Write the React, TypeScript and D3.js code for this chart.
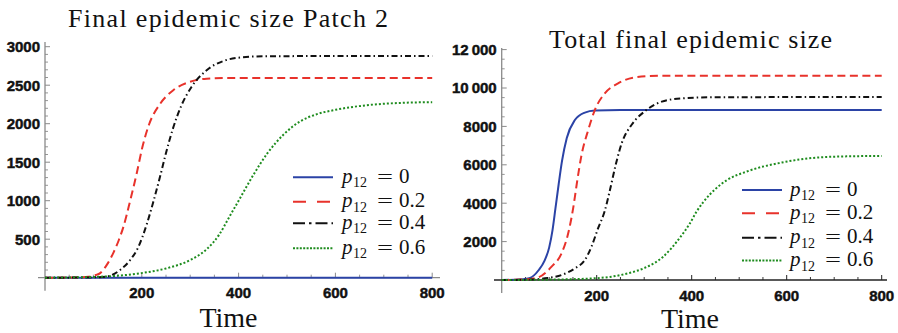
import React from "react";
import * as d3 from "d3";

// ---------- data (time, value) ----------
const patch2P0: [number, number][] = [[0, 0], [400, 0], [800, 0]];
const patch2P02: [number, number][] = [
  [0, 0], [60, 2], [90, 12], [105, 35], [114, 60], [128, 170], [141, 320], [152, 480],
  [162, 660], [176, 1000], [190, 1370], [201, 1690], [215, 1990], [238, 2260],
  [265, 2435], [300, 2545], [334, 2585], [380, 2595], [500, 2595], [800, 2595],
];
const patch2P04: [number, number][] = [
  [0, 0], [80, 2], [110, 6], [128, 15], [155, 100], [176, 230], [193, 400], [210, 690],
  [224, 990], [238, 1320], [250, 1620], [264, 1930], [280, 2210], [303, 2480],
  [334, 2695], [369, 2815], [403, 2860], [450, 2875], [550, 2878], [800, 2878],
];
const patch2P06: [number, number][] = [
  [0, 0], [100, 10], [196, 57], [250, 120], [300, 230], [334, 370], [360, 560],
  [380, 780], [400, 1000], [430, 1330], [460, 1620], [493, 1860], [527, 2030],
  [560, 2120], [600, 2180], [665, 2240], [734, 2270], [800, 2280],
];

const totalP0: [number, number][] = [
  [0, 0], [40, 25], [58, 90], [78, 520], [90, 1000], [100, 1700], [107, 2600],
  [113, 3700], [120, 5000], [127, 6200], [137, 7400], [154, 8330], [175, 8720],
  [196, 8830], [250, 8850], [800, 8850],
];
const totalP02: [number, number][] = [
  [0, 0], [50, 30], [77, 140], [105, 694], [126, 1390], [140, 2430], [151, 3820],
  [158, 5000], [168, 6500], [182, 7800], [196, 8850], [217, 9720], [245, 10240],
  [280, 10550], [337, 10640], [800, 10640],
];
const totalP04: [number, number][] = [
  [0, 0], [60, 20], [91, 88], [126, 260], [154, 607], [175, 1040], [189, 1736],
  [203, 2700], [217, 3600], [228, 4700], [240, 6000], [253, 7150], [274, 8100],
  [302, 8800], [337, 9290], [379, 9462], [450, 9520], [800, 9530],
];
const totalP06: [number, number][] = [
  [0, 0], [100, 20], [196, 88], [266, 350], [300, 620], [340, 1215], [375, 2200],
  [395, 2900], [410, 3550], [438, 4450], [460, 4950], [474, 5200], [516, 5650],
  [590, 6120], [656, 6360], [726, 6440], [800, 6460],
];

const legendValues = ["0", "0.2", "0.4", "0.6"];
const xTicksMajor = [200, 400, 600, 800];
const leftYTicks = [500, 1000, 1500, 2000, 2500, 3000];
const rightYTicks = [2000, 4000, 6000, 8000, 10000, 12000];

// ---------- styles ----------
const seriesStyle = [
  { color: "#2b43a6", dash: "", legendDash: "" },
  { color: "#e8322b", dash: "8,4.5", legendDash: "13,11" },
  { color: "#111111", dash: "6,3,1.5,3", legendDash: "12,4,2.5,4" },
  { color: "#1e8c1e", dash: "2,2", legendDash: "2,1.4" },
];

const serif = "'Liberation Serif', 'Times New Roman', serif";
const sans = "'Liberation Sans', Arial, sans-serif";

type PanelProps = {
  series: [number, number][][];
  yMax: number;
  yTicks: number[];
  yMinorStep: number;
  xRange: [number, number];
  yRange: [number, number];
  yAxisTop: number;
  xAxisLeft: number;
  xAxisRight: number;
  yAxisColor: string;
  xAxisColor: string;
  fmt: (v: number) => string;
  title: string;
  titleX: number;
  titleY: number;
  titleLen: number;
  timeX: number;
  timeY: number;
  legendX: number;
  legendRows: number[];
  legendTextX: number;
};

function Panel(p: PanelProps) {
  const x = d3.scaleLinear().domain([0, 800]).range(p.xRange);
  const y = d3.scaleLinear().domain([0, p.yMax]).range(p.yRange);
  const line = d3
    .line<[number, number]>()
    .x((d) => x(d[0]))
    .y((d) => y(d[1]))
    .curve(d3.curveMonotoneX);
  const x0 = x(0);
  const y0 = y(0);
  const xMinor = d3.range(50, 801, 50).filter((t) => t % 200 !== 0);
  const yMinor = d3.range(p.yMinorStep, p.yMax + 1, p.yMinorStep).filter(
    (v) => !p.yTicks.includes(v)
  );
  const labelStyle: React.CSSProperties = {
    fontFamily: sans, fontWeight: 700, fontSize: "15px", fill: "#111",
    stroke: "#111", strokeWidth: 0.45, paintOrder: "stroke",
  };
  const serifStyle = (size: number, italic = false): React.CSSProperties => ({
    fontFamily: serif, fontSize: size + "px", fontStyle: italic ? "italic" : "normal", fill: "#111",
  });
  return (
    <g>
      <text x={p.titleX} y={p.titleY} style={serifStyle(26)} textLength={p.titleLen} lengthAdjust="spacing">{p.title}</text>
      {/* axes */}
      <line x1={x0} x2={x0} y1={p.yAxisTop} y2={y0 + 13} stroke={p.yAxisColor} strokeWidth={1.3} />
      <line x1={p.xAxisLeft} x2={p.xAxisRight} y1={y0} y2={y0} stroke={p.xAxisColor} strokeWidth={1.3} />
      {p.yTicks.map((v) => (
        <g key={"yt" + v}>
          <line x1={x0} x2={x0 + 5} y1={y(v)} y2={y(v)} stroke={p.yAxisColor} strokeWidth={1} />
          <text x={x0 - 5} y={y(v)} dy="0.36em" textAnchor="end" style={labelStyle}>{p.fmt(v)}</text>
        </g>
      ))}
      {yMinor.map((v) => (
        <line key={"ym" + v} x1={x0} x2={x0 + 3} y1={y(v)} y2={y(v)} stroke={p.yAxisColor} strokeWidth={0.9} />
      ))}
      {xTicksMajor.map((t) => (
        <g key={"xt" + t}>
          <line x1={x(t)} x2={x(t)} y1={y0} y2={y0 - 5} stroke={p.xAxisColor} strokeWidth={1} />
          <text x={x(t)} y={y0 + 20.5} textAnchor="middle" style={labelStyle}>{t}</text>
        </g>
      ))}
      {xMinor.map((t) => (
        <line key={"xm" + t} x1={x(t)} x2={x(t)} y1={y0} y2={y0 - 3} stroke={p.xAxisColor} strokeWidth={0.9} />
      ))}
      {/* curves */}
      {p.series.map((s, i) => (
        <path key={"s" + i} d={line(s) || ""} fill="none" stroke={seriesStyle[i].color}
          strokeWidth={2} strokeDasharray={seriesStyle[i].dash || undefined} />
      ))}
      {/* legend */}
      {legendValues.map((v, i) => {
        const ly = p.legendRows[i];
        const tx = p.legendTextX;
        const by = ly + 5.5;
        return (
          <g key={"lg" + i}>
            <line x1={p.legendX} x2={p.legendX + 40} y1={ly} y2={ly} stroke={seriesStyle[i].color}
              strokeWidth={2} strokeDasharray={seriesStyle[i].legendDash || undefined} />
            <text x={tx} y={by} style={serifStyle(21, true)}>p</text>
            <text x={tx + 11} y={by + 4.5} style={serifStyle(14)}>12</text>
            <text x={tx + 35} y={by} style={serifStyle(19)} textLength={16} lengthAdjust="spacingAndGlyphs">=</text>
            <text x={tx + 57} y={by} style={serifStyle(21)}>{v}</text>
          </g>
        );
      })}
      <text x={p.timeX} y={p.timeY} textAnchor="middle" style={serifStyle(28)}>Time</text>
    </g>
  );
}

export default function App() {
  const fmtLeft = (v: number) => String(v);
  const fmtRight = (v: number) => (v >= 10000 ? d3.format(",")(v).replace(",", "\u2009") : String(v));
  return (
    <svg width={898} height={333} style={{ position: "absolute", left: 0, top: 0, background: "#fff" }}>
      <Panel
        series={[patch2P0, patch2P02, patch2P04, patch2P06]}
        yMax={3000}
        yTicks={leftYTicks}
        yMinorStep={100}
        xRange={[45, 432.2]}
        yRange={[277.7, 46.7]}
        yAxisTop={42}
        xAxisLeft={38}
        xAxisRight={440}
        yAxisColor="#8a8a8a"
        xAxisColor="#8a8a8a"
        fmt={fmtLeft}
        title="Final epidemic size Patch 2"
        titleX={68}
        titleY={27}
        titleLen={320}
        timeX={228.5}
        timeY={327}
        legendX={293}
        legendRows={[177.3, 201.7, 223.3, 248.3]}
        legendTextX={342}
      />
      <Panel
        series={[totalP0, totalP02, totalP04, totalP06]}
        yMax={12000}
        yTicks={rightYTicks}
        yMinorStep={500}
        xRange={[501.7, 881.7]}
        yRange={[280, 49.6]}
        yAxisTop={48}
        xAxisLeft={494}
        xAxisRight={887}
        yAxisColor="#8a8a8a"
        xAxisColor="#222"
        fmt={fmtRight}
        title="Total final epidemic size"
        titleX={549}
        titleY={48}
        titleLen={283}
        timeX={690}
        timeY={327.5}
        legendX={742}
        legendRows={[190, 213.3, 237.8, 260.5]}
        legendTextX={790}
      />
    </svg>
  );
}
